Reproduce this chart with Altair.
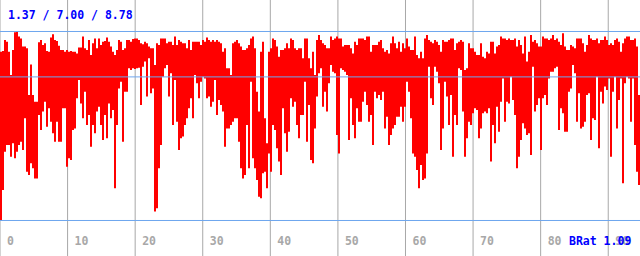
import altair as alt
import pandas as pd

# Red series envelope per 2-px column: upper and lower excursion
upper = [
    # 0 .. 19
    7.99, 8.02, 8.45, 8.38, 7.99, 7.07, 8.05, 8.75, 8.78, 8.58, 8.51, 8.19, 8.19, 8.12, 6.29, 7.49,
    6.29, 6.03, 6.03, 8.36, 8.45, 8.25, 8.32, 8.02, 7.99, 8.54, 8.67, 8.45, 8.41, 8.22, 8.05, 8.05,
    7.99, 8.05, 7.99, 8.02, 7.99, 7.99, 7.92, 8.15, 8.15, 8.58, 8.12, 8.05, 8.45, 7.86, 8.32, 8.51,
    8.12, 8.51, 8.25, 8.38, 8.41, 8.54, 8.38, 8.19, 7.99, 7.86, 8.05, 8.45, 8.38, 8.05, 8.12, 8.45,
    # 19 .. 38
    8.45, 8.38, 8.49, 8.51, 8.51, 8.45, 8.32, 8.28, 8.38, 8.32, 8.19, 8.12, 8.12, 7.47, 8.32, 8.25,
    8.51, 8.51, 8.51, 8.32, 8.38, 8.38, 8.25, 8.58, 8.25, 8.45, 8.38, 8.32, 8.32, 8.12, 8.45, 8.05,
    8.38, 8.38, 8.38, 8.38, 8.25, 8.45, 8.38, 8.54, 8.45, 8.38, 8.45, 8.38, 8.45, 8.38, 8.32, 7.99,
    8.12, 7.34, 7.34, 7.07, 8.32, 8.38, 8.45, 8.32, 8.19, 8.05, 8.05, 8.12, 8.25, 8.51, 8.58, 8.12,
    # 38 .. 57
    6.42, 5.64, 7.99, 8.38, 5.38, 4.40, 7.99, 8.12, 8.51, 8.45, 8.19, 7.79, 8.05, 8.05, 8.12, 8.32,
    8.12, 8.51, 8.45, 8.12, 8.05, 8.12, 8.12, 7.73, 8.51, 8.51, 7.73, 7.34, 7.99, 7.07, 8.45, 8.64,
    8.45, 8.32, 8.25, 8.12, 8.12, 8.58, 8.45, 8.51, 8.58, 8.51, 8.51, 8.19, 8.25, 8.25, 8.25, 8.12,
    7.92, 8.38, 8.25, 8.51, 8.51, 8.51, 8.45, 8.58, 8.58, 7.99, 8.25, 8.25, 8.25, 8.38, 8.45, 8.12,
    # 57 .. 76
    7.99, 8.05, 7.92, 8.32, 8.58, 8.32, 8.12, 8.38, 7.99, 8.32, 8.12, 8.51, 8.19, 8.05, 8.05, 8.58,
    7.86, 7.73, 7.99, 7.73, 8.51, 8.64, 8.45, 8.38, 8.32, 8.45, 8.38, 8.25, 7.99, 8.45, 8.38, 8.38,
    8.45, 8.51, 8.51, 8.05, 8.32, 8.38, 8.45, 8.38, 7.27, 7.34, 8.32, 8.12, 8.12, 7.99, 7.86, 7.86,
    8.32, 7.79, 7.73, 7.99, 7.92, 8.38, 8.38, 7.92, 8.19, 8.25, 8.58, 8.51, 8.51, 8.45, 8.51, 8.45,
    # 76 .. 95
    8.45, 8.51, 8.19, 8.45, 8.25, 7.92, 8.58, 7.60, 7.99, 8.64, 8.38, 8.45, 8.32, 8.19, 8.19, 8.58,
    8.51, 8.51, 8.45, 8.51, 8.64, 8.45, 8.51, 8.38, 8.25, 8.71, 8.19, 8.05, 8.05, 8.25, 8.19, 8.12,
    8.51, 8.51, 8.51, 8.32, 7.99, 8.25, 8.64, 8.51, 8.45, 8.45, 8.51, 8.32, 8.45, 8.45, 8.58, 8.45,
    8.25, 8.32, 8.25, 8.45, 8.51, 8.38, 7.99, 8.32, 8.51, 8.58, 8.58, 8.45, 8.45, 8.51, 8.19, 6.29,
]
lower = [
    # 0 .. 19
    1.37, 2.57, 4.07, 4.33, 4.33, 3.87, 4.40, 3.81, 4.07, 4.33, 4.46, 4.13, 5.38, 3.28, 3.15, 3.61,
    3.42, 3.02, 3.02, 5.51, 4.92, 5.64, 6.03, 5.05, 5.77, 5.24, 4.79, 4.46, 5.24, 4.46, 4.46, 5.77,
    5.77, 3.48, 3.81, 3.74, 4.92, 4.98, 6.16, 6.88, 5.96, 5.38, 6.42, 5.11, 5.51, 4.26, 5.11, 4.79,
    5.64, 5.83, 5.11, 4.53, 5.51, 4.59, 5.96, 5.38, 5.70, 2.63, 5.11, 6.55, 6.81, 4.46, 6.42, 6.42,
    # 19 .. 38
    7.34, 7.27, 7.34, 7.31, 7.34, 7.36, 5.90, 7.40, 7.60, 6.23, 7.73, 6.36, 6.55, 1.72, 1.85, 3.42,
    4.33, 7.01, 7.34, 7.47, 6.23, 7.14, 5.11, 6.88, 5.24, 4.13, 4.59, 4.66, 5.11, 5.38, 5.77, 6.16,
    5.38, 7.07, 6.75, 6.16, 6.81, 7.01, 6.94, 6.16, 6.23, 5.83, 6.03, 6.88, 5.51, 6.09, 5.90, 5.64,
    4.26, 4.98, 4.98, 5.11, 5.24, 5.38, 5.38, 4.46, 3.42, 3.02, 3.15, 5.11, 3.42, 6.81, 3.81, 3.42,
    # 38 .. 57
    2.96, 2.30, 2.24, 3.22, 3.28, 2.63, 4.00, 3.28, 5.11, 4.92, 4.20, 3.68, 3.15, 5.77, 4.79, 4.07,
    4.85, 6.16, 5.83, 6.03, 5.11, 4.59, 5.51, 5.51, 6.81, 4.46, 5.90, 3.74, 3.61, 4.98, 6.23, 7.14,
    7.34, 5.83, 6.42, 5.64, 6.75, 7.47, 7.20, 7.14, 4.72, 4.00, 7.34, 7.27, 7.20, 7.07, 4.53, 6.16,
    5.11, 4.59, 5.77, 5.24, 5.24, 6.03, 6.42, 5.90, 5.24, 5.51, 4.33, 6.42, 6.16, 6.29, 6.09, 6.42,
    # 57 .. 76
    4.98, 5.44, 4.33, 4.72, 4.98, 5.11, 5.44, 5.44, 5.83, 5.24, 5.83, 6.81, 6.42, 5.38, 4.00, 3.87,
    3.35, 2.63, 3.55, 2.96, 3.02, 4.00, 7.40, 6.16, 5.90, 7.40, 7.20, 6.75, 4.13, 4.98, 6.81, 6.23,
    5.11, 6.29, 3.87, 5.51, 5.11, 7.34, 7.27, 5.64, 3.87, 4.59, 5.24, 5.11, 5.57, 5.77, 5.70, 4.59,
    4.98, 5.57, 5.64, 5.57, 5.77, 3.68, 5.11, 4.40, 5.83, 4.85, 6.03, 6.94, 5.24, 6.03, 5.96, 7.01,
    # 76 .. 95
    6.09, 5.51, 3.42, 3.87, 4.53, 5.18, 4.98, 4.72, 4.79, 3.94, 7.40, 5.64, 5.90, 6.16, 4.13, 6.16,
    6.29, 5.90, 6.94, 7.20, 7.20, 7.34, 7.40, 4.92, 5.77, 5.57, 4.85, 4.85, 6.42, 6.55, 7.47, 7.14,
    5.24, 6.36, 4.98, 5.05, 5.24, 6.29, 6.36, 4.53, 5.38, 5.31, 7.01, 4.20, 6.42, 5.96, 6.62, 6.49,
    6.94, 3.87, 6.42, 7.01, 4.98, 6.09, 6.94, 2.83, 6.75, 7.01, 6.94, 5.24, 6.94, 4.33, 3.28, 2.76,
]

x_ticks = [0, 10, 20, 30, 40, 50, 60, 70, 80, 90]
levels = [8.78, 7.00, 1.37]          # min / avg / max reference lines
header = "1.37 / 7.00 / 8.78"
footer = "BRat 1.09"

X_MAX = 94.7
Y_DOMAIN = [-0.022, 10.015]

# One vertical stroke per sample, spanning its lower to upper excursion
n = len(upper)
colw = X_MAX / n
series = pd.DataFrame({
    "t0": [i * colw for i in range(n)],
    "t1": [(i + 1) * colw for i in range(n)],
    "hi": upper,
    "lo": lower,
})

xs = alt.Scale(domain=[0, X_MAX], nice=False, zero=False)
ys = alt.Scale(domain=Y_DOMAIN, nice=False, zero=False)

FONT = "DejaVu Sans Mono"
FS = 11.5

grid = alt.Chart(pd.DataFrame({"t": x_ticks})).mark_rule(
    color="#a8a8a8", strokeWidth=1
).encode(x=alt.X("t:Q", scale=xs, axis=None))

bars = alt.Chart(series).mark_rect(color="#ff0000", clip=True).encode(
    x=alt.X("t0:Q", scale=xs, axis=None),
    x2="t1:Q",
    y=alt.Y("hi:Q", scale=ys, axis=None),
    y2="lo:Q",
)

hlines = alt.Chart(pd.DataFrame({"v": levels})).mark_rule(
    color="#6ea6ee", strokeWidth=1
).encode(y=alt.Y("v:Q", scale=ys, axis=None))

tick_labels = alt.Chart(
    pd.DataFrame({"t": x_ticks, "label": [str(v) for v in x_ticks]})
).mark_text(
    align="left", baseline="alphabetic", dx=7, font=FONT, fontSize=FS,
    fontWeight="bold", color="#a8a8a8"
).encode(
    x=alt.X("t:Q", scale=xs, axis=None),
    y=alt.value(245),
    text="label:N",
)

head = alt.Chart(pd.DataFrame({"label": [header]})).mark_text(
    align="left", baseline="alphabetic", font=FONT, fontSize=FS,
    fontWeight="bold", color="#0000ff"
).encode(x=alt.value(8), y=alt.value(19), text="label:N")

foot = alt.Chart(pd.DataFrame({"label": [footer]})).mark_text(
    align="left", baseline="alphabetic", font=FONT, fontSize=FS,
    fontWeight="bold", color="#0000ff"
).encode(x=alt.value(569), y=alt.value(245), text="label:N")

chart = alt.layer(grid, bars, hlines, tick_labels, head, foot).properties(
    width=640, height=256,
    autosize=alt.AutoSizeParams(type="none"),
    padding=0,
    background="#ffffff",
).configure_view(stroke=None)

chart.save("out.html", embed_options={"renderer": "svg", "actions": False})
